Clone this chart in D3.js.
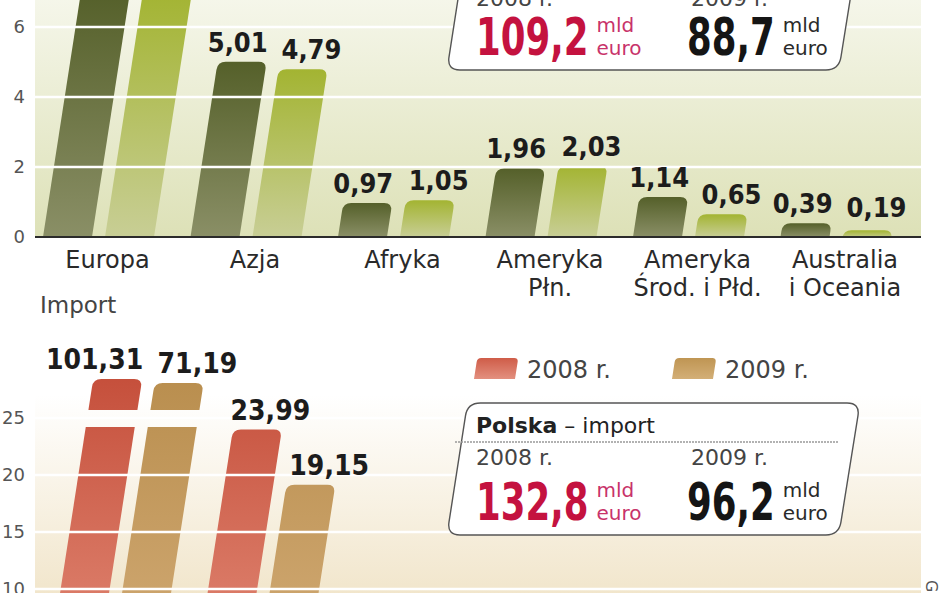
<!DOCTYPE html>
<html>
<head>
<meta charset="utf-8">
<script src="https://cdn.jsdelivr.net/npm/d3@7"></script>
<style>
  html, body { margin: 0; padding: 0; background: #ffffff; }
  svg { display: block; }
</style>
</head>
<body>
<svg id="chart" width="948" height="593"></svg>
<script>
// ---------- DATA ----------
const categories = ["Europa", "Azja", "Afryka", "Ameryka Płn.", "Ameryka Środ. i Płd.", "Australia i Oceania"];
const years = ["2008 r.", "2009 r."];
const export2008 = [99.73, 5.01, 0.97, 1.96, 1.14, 0.39];
const export2009 = [79.99, 4.79, 1.05, 2.03, 0.65, 0.19];
const import2008 = [101.31, 23.99, null, null, null, null];
const import2009 = [71.19, 19.15, null, null, null, null];
const exportTicks = [0, 2, 4, 6];
const importTicks = [10, 15, 20, 25];
const exportTotals = [109.2, 88.7];
const importTotals = [132.8, 96.2];
const importTitle = ["Polska", " – import"];
const unitTop = "mld", unitBottom = "euro";
const importLabel = "Import";
const sourceText = "GUS";

// ---------- SETUP ----------
const svg = d3.select("#chart");
const defs = svg.append("defs");
const fmt = v => d3.format(".2f")(v).replace(".", ",");
const fmt1 = v => d3.format(".1f")(v).replace(".", ",");
const SLANT = 0.155;
const FONT = "'DejaVu Sans', sans-serif";
const FONT_COND = "'DejaVu Sans Condensed', 'DejaVu Sans', sans-serif";
const panelX0 = 35, panelX1 = 921;

function vGrad(id, c0, c1, units, y1, y2) {
  const g = defs.append("linearGradient").attr("id", id)
    .attr("x1", 0).attr("x2", 0);
  if (units) {
    g.attr("gradientUnits", "userSpaceOnUse").attr("y1", y1).attr("y2", y2);
  } else {
    g.attr("y1", 0).attr("y2", 1);
  }
  g.append("stop").attr("offset", 0).attr("stop-color", c0);
  g.append("stop").attr("offset", 1).attr("stop-color", c1);
}
vGrad("bgExport", "#f6f7ec", "#dde1b7", true, -10, 237);
vGrad("bgImport", "#ffffff", "#f1e5ca", true, 395, 600);
vGrad("e2008", "#55602a", "#8a8f66");
vGrad("e2009", "#a3b432", "#c8ce95");
vGrad("i2008", "#c54f3b", "#db7b67", true, 375, 600);
vGrad("i2009", "#b98e4e", "#cca46c", true, 375, 600);
vGrad("l2008", "#cf5c48", "#e3907f");
vGrad("l2009", "#bf9553", "#d3af77");

// scales
const x0 = d3.scaleBand().domain(categories).range([43, 891.5]).paddingInner(0.2475).paddingOuter(0);
const x1 = d3.scaleBand().domain(years).range([0, x0.bandwidth()]).paddingInner(0.2097);
const yE = d3.scaleLinear().domain([0, 7]).range([237, -8]);
const yI = d3.scaleLinear().domain([0, 30]).range([703, 361]);
const importBreakLow = 24.2, importBreakHigh = 25.7;
const capTop = d3.scaleLinear().domain([40, 110]).range([387.1, 377.8]);

// slanted bar path: xl = left x at yBase
function barPath(xl, w, yBase, yBot, yTop, r) {
  const L = y => xl + SLANT * (yBase - y);
  const p = d3.path();
  p.moveTo(L(yBot), yBot);
  if (r > 0) {
    p.lineTo(L(yTop + r), yTop + r);
    p.quadraticCurveTo(L(yTop), yTop, L(yTop) + r, yTop);
    p.lineTo(L(yTop) + w - r, yTop);
    p.quadraticCurveTo(L(yTop) + w, yTop, L(yTop + r) + w, yTop + r);
  } else {
    p.lineTo(L(yTop), yTop);
    p.lineTo(L(yTop) + w, yTop);
  }
  p.lineTo(L(yBot) + w, yBot);
  p.closePath();
  return p.toString();
}

function roundedPoly(pts, r) {
  const p = d3.path();
  const n = pts.length;
  for (let i = 0; i < n; i++) {
    const c = pts[i], a = pts[(i - 1 + n) % n], b = pts[(i + 1) % n];
    const da = Math.hypot(a[0] - c[0], a[1] - c[1]);
    const db = Math.hypot(b[0] - c[0], b[1] - c[1]);
    const s = [c[0] + (a[0] - c[0]) * r / da, c[1] + (a[1] - c[1]) * r / da];
    const e = [c[0] + (b[0] - c[0]) * r / db, c[1] + (b[1] - c[1]) * r / db];
    if (i === 0) p.moveTo(s[0], s[1]); else p.lineTo(s[0], s[1]);
    p.quadraticCurveTo(c[0], c[1], e[0], e[1]);
  }
  p.closePath();
  return p.toString();
}

// ---------- BACKGROUNDS ----------
svg.append("rect").attr("x", panelX0).attr("y", -10).attr("width", panelX1 - panelX0)
  .attr("height", yE(0) + 10).attr("fill", "url(#bgExport)");
svg.append("rect").attr("x", panelX0).attr("y", 395).attr("width", panelX1 - panelX0)
  .attr("height", 210).attr("fill", "url(#bgImport)");

const gBars = svg.append("g");
const gGrid = svg.append("g");
const gLabels = svg.append("g");

function valueLabel(x, y, anchor, size, v) {
  gLabels.append("text")
    .attr("x", x).attr("y", y).attr("text-anchor", anchor)
    .attr("font-family", FONT_COND).attr("font-stretch", "condensed")
    .attr("font-weight", "bold").attr("font-size", size).attr("fill", "#1c1c1c")
    .text(fmt(v));
}

// ---------- EXPORT BARS ----------
const exportSeries = [export2008, export2009];
const eMax = yE.domain()[1];
exportSeries.forEach((vals, si) => {
  vals.forEach((v, ci) => {
    const xl = x0(categories[ci]) + x1(years[si]);
    const w = x1.bandwidth();
    const clipped = v > eMax;
    const top = yE(Math.min(v, eMax));
    gBars.append("path")
      .attr("d", barPath(xl, w, yE(0), yE(0), top, clipped ? 0 : 8))
      .attr("fill", si === 0 ? "url(#e2008)" : "url(#e2009)");
    if (!clipped) {
      const tx = xl + SLANT * (yE(0) - top);
      const ly = Math.min(top - 10, yE(0) - 20);
      valueLabel(si === 0 ? tx + w + 1 : tx + 3, ly, si === 0 ? "end" : "start", 27, v);
    }
  });
});

// ---------- IMPORT BARS ----------
const importSeries = [import2008, import2009];
importSeries.forEach((vals, si) => {
  vals.forEach((v, ci) => {
    if (v == null) return;
    const xl = x0(categories[ci]) + x1(years[si]);
    const w = x1.bandwidth();
    const fill = si === 0 ? "url(#i2008)" : "url(#i2009)";
    let labelTop;
    if (v > importBreakHigh) {
      gBars.append("path")
        .attr("d", barPath(xl, w, yI(0), yI(0), yI(importBreakLow), 0))
        .attr("fill", fill);
      labelTop = capTop(v);
      gBars.append("path")
        .attr("d", barPath(xl, w, yI(0), yI(importBreakHigh), labelTop, 8))
        .attr("fill", fill);
    } else {
      labelTop = yI(v);
      gBars.append("path")
        .attr("d", barPath(xl, w, yI(0), yI(0), labelTop, 8))
        .attr("fill", fill);
    }
    const tx = xl + SLANT * (yI(0) - labelTop);
    const single = v <= importBreakHigh && si === 0;
    valueLabel(single ? tx + w / 2 + 13 : (si === 0 ? tx + w + 1 : tx + 3),
      labelTop - 10, single ? "middle" : (si === 0 ? "end" : "start"), 28, v);
  });
});

// ---------- GRIDLINES (over bars) ----------
gGrid.selectAll("line.e").data(exportTicks.filter(t => t > 0)).join("line")
  .attr("x1", panelX0).attr("x2", panelX1)
  .attr("y1", d => yE(d)).attr("y2", d => yE(d))
  .attr("stroke", "#ffffff").attr("stroke-width", 2.5);
gGrid.selectAll("line.i").data(importTicks).join("line")
  .attr("x1", panelX0).attr("x2", panelX1)
  .attr("y1", d => yI(d)).attr("y2", d => yI(d))
  .attr("stroke", "#ffffff").attr("stroke-width", 2.5);

// baseline
gGrid.append("line").attr("x1", panelX0).attr("x2", panelX1)
  .attr("y1", yE(0)).attr("y2", yE(0)).attr("stroke", "#2b2b2b").attr("stroke-width", 2);

// ---------- Y AXES (tick labels only) ----------
const axE = d3.axisLeft(yE).tickValues(exportTicks).tickSize(0).tickPadding(0).tickFormat(d => d);
const axI = d3.axisLeft(yI).tickValues(importTicks).tickSize(0).tickPadding(0).tickFormat(d => d);
[axE, axI].forEach(ax => {
  const g = svg.append("g").attr("transform", "translate(25,0)").call(ax);
  g.select(".domain").remove();
  g.selectAll("text").attr("font-family", FONT).attr("font-size", 18).attr("fill", "#555");
});

// ---------- CATEGORY LABELS ----------
const gx = svg.append("g");
categories.forEach(c => {
  const i = c.indexOf(" ");
  const lines = i < 0 ? [c] : [c.slice(0, i), c.slice(i + 1)];
  const cx = x0(c) + x0.bandwidth() / 2 + 9;
  const t = gx.append("text").attr("text-anchor", "middle")
    .attr("font-family", FONT).attr("font-size", 24).attr("fill", "#2a2a2a");
  lines.forEach((l, k) => {
    t.append("tspan").attr("x", cx).attr("y", yE(0) + 31 + k * 28).text(l);
  });
});

// "Import" label
svg.append("text").attr("x", 40).attr("y", 313)
  .attr("font-family", FONT).attr("font-size", 23).attr("fill", "#444").text(importLabel);

// ---------- LEGEND (import) ----------
const legX = [474, 672];
years.forEach((y, i) => {
  svg.append("path")
    .attr("d", barPath(legX[i], 41, 379, 379, 358, 4))
    .attr("fill", i === 0 ? "url(#l2008)" : "url(#l2009)");
  svg.append("text").attr("x", legX[i] + 53).attr("y", 378)
    .attr("font-family", FONT).attr("font-size", 24).attr("fill", "#444").text(y);
});

// ---------- TOTAL BOXES ----------
const NUM_SX = 0.76;
function totalBox(yTop, yBot, totals, title, yearRise) {
  const pts = [
    [447 + SLANT * (yBot - yTop), yTop],
    [860, yTop],
    [860 - 0.16 * (yBot - yTop), yBot],
    [447, yBot]
  ];
  svg.append("path").attr("d", roundedPoly(pts, 13))
    .attr("fill", "#ffffff").attr("stroke", "#555").attr("stroke-width", 1.4);
  const base = yBot - 15;
  if (title) {
    const t = svg.append("text").attr("x", 476).attr("y", yTop + 30)
      .attr("font-family", FONT).attr("font-size", 22).attr("fill", "#222");
    t.append("tspan").attr("font-weight", "bold").text(title[0]);
    t.append("tspan").text(title[1]);
    svg.append("line").attr("x1", 455).attr("x2", 839)
      .attr("y1", yTop + 39).attr("y2", yTop + 39)
      .attr("stroke", "#999").attr("stroke-width", 1.3).attr("stroke-dasharray", "2,1");
  }
  const colX = [476, 687];
  const numCol = ["#c4123f", "#151515"];
  const unitCol = ["#c8336a", "#2a2a2a"];
  totals.forEach((v, i) => {
    svg.append("text").attr("x", colX[i] + (i ? 4 : 0)).attr("y", base - yearRise)
      .attr("font-family", FONT).attr("font-size", 22).attr("fill", "#444").text(years[i]);
    const num = svg.append("text")
      .attr("transform", `translate(${colX[i]},${base}) scale(${NUM_SX},1)`)
      .attr("font-family", FONT_COND).attr("font-stretch", "condensed").attr("font-weight", "bold")
      .attr("font-size", 52).attr("fill", numCol[i]).text(fmt1(v));
    const wNum = num.node().getComputedTextLength() * NUM_SX;
    const ux = colX[i] + wNum + 8;
    svg.append("text").attr("x", ux).attr("y", base - 23)
      .attr("font-family", FONT).attr("font-size", 20).attr("fill", unitCol[i]).text(unitTop);
    svg.append("text").attr("x", ux).attr("y", base)
      .attr("font-family", FONT).attr("font-size", 20).attr("fill", unitCol[i]).text(unitBottom);
  });
}
totalBox(-62, 70, exportTotals, null, 49);
totalBox(403, 535, importTotals, importTitle, 55);

// source (rotated, mostly cropped)
svg.append("text").attr("transform", "translate(926,580) rotate(90)")
  .attr("font-family", FONT).attr("font-size", 16).attr("fill", "#555").text(sourceText);
</script>
</body>
</html>
